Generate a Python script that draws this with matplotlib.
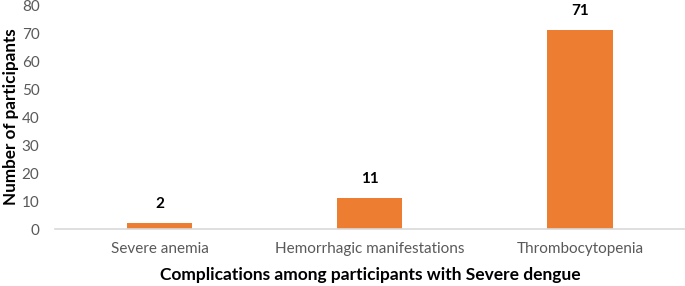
import matplotlib.pyplot as plt

categories = ["Severe anemia", "Hemorrhagic manifestations", "Thrombocytopenia"]
counts = [2, 11, 71]

plt.rcParams['font.family'] = ['Lato', 'DejaVu Sans']

fig = plt.figure(figsize=(6.85, 2.86), dpi=100)
ax = fig.add_axes([0.080, 0.199, 0.92, 0.7835])

x = range(len(categories))
bars = ax.bar(x, counts, width=0.31, color='#ED7D31')
for b, v in zip(bars, counts):
    ax.text(b.get_x() + b.get_width() / 2, v + 4.3, str(v), ha='center', va='bottom',
            fontsize=11, fontweight='bold', color='black')

ax.set_xlim(-0.5, 2.5)
ax.set_ylim(0, 80)
ax.set_yticks(range(0, 81, 10))
ax.set_xticks(list(x))
ax.set_xticklabels(categories)
ax.tick_params(axis='both', length=0, labelsize=11, colors='#595959')
ax.tick_params(axis='x', pad=9)
ax.tick_params(axis='y', pad=11)

for s in ['top', 'right', 'left']:
    ax.spines[s].set_visible(False)
ax.spines['bottom'].set_color('#D9D9D9')
ax.spines['bottom'].set_linewidth(1.2)

ax.set_xlabel('Complications among participants with Severe dengue', fontsize=12.5,
              fontweight='bold', labelpad=8)
ax.set_ylabel('Number of participants', fontsize=12.3, fontweight='bold', labelpad=2)

fig.savefig('out.png', dpi=100)
